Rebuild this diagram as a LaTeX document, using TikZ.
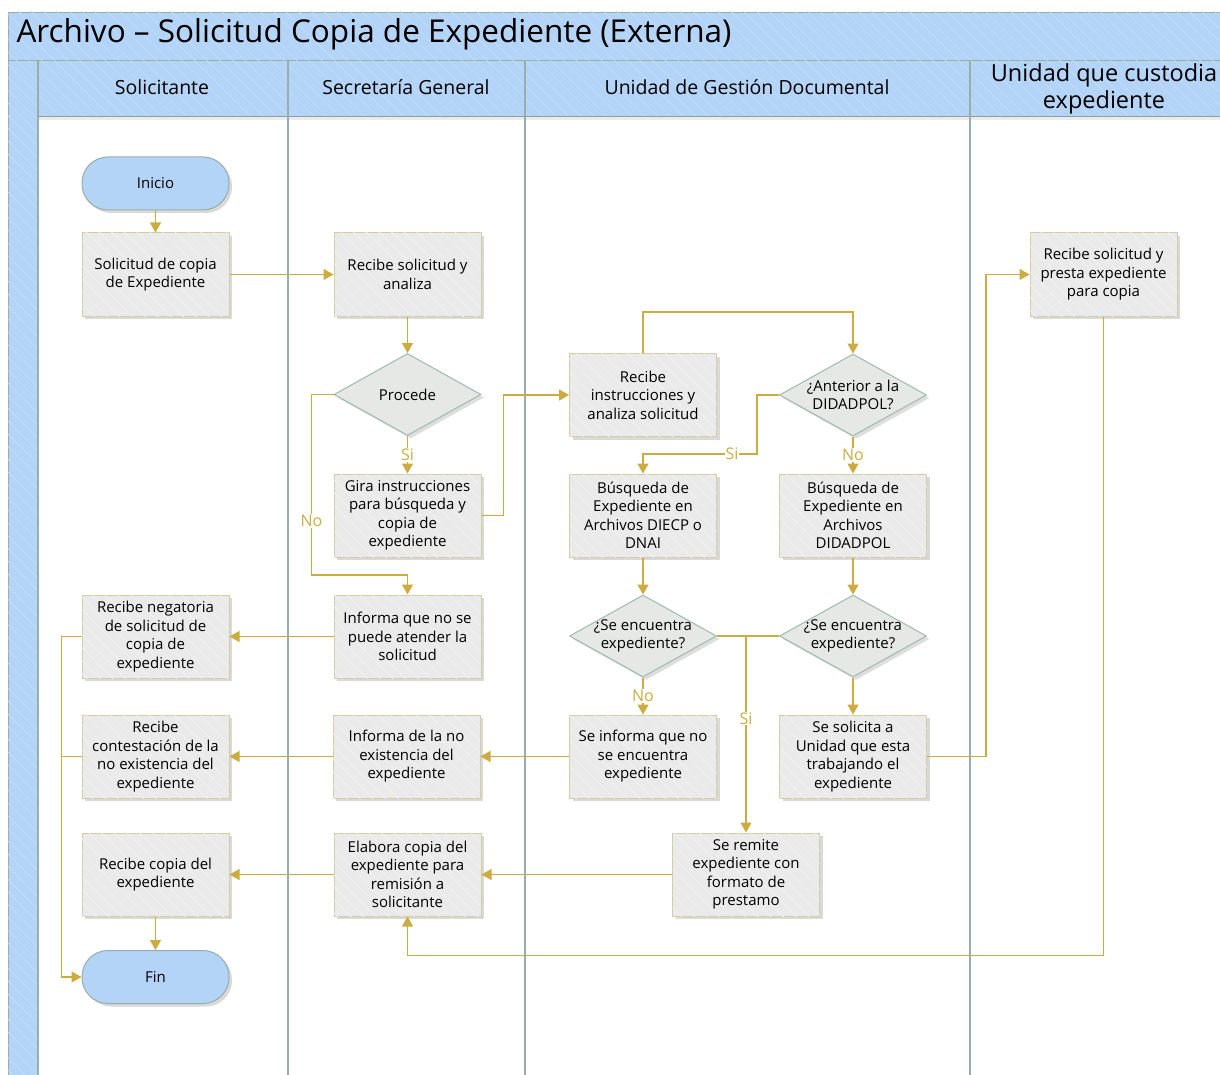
\documentclass[tikz,border=0pt]{standalone}
\usepackage{fontspec}
\setmainfont{Open Sans}
\usetikzlibrary{shapes.geometric,shadows,arrows.meta,patterns.meta}
\definecolor{bluefill}{RGB}{180,212,247}
\definecolor{bluestripe}{RGB}{196,222,250}
\definecolor{laneline}{RGB}{150,175,170}
\definecolor{gold}{RGB}{204,172,64}
\definecolor{boxfill}{RGB}{234,234,234}
\definecolor{boxstripe}{RGB}{243,243,243}
\definecolor{boxborder}{RGB}{214,204,164}
\definecolor{decfill}{RGB}{230,232,230}
\definecolor{decborder}{RGB}{160,185,175}
\begin{document}
\begin{tikzpicture}[x=1pt,y=-1pt,
  bluebg/.style={fill=bluefill,draw=laneline,line width=0.8pt,
     postaction={pattern={Lines[angle=-45,distance=9pt,line width=0.6pt]},pattern color=bluestripe}},
  proc/.style={rectangle,draw=boxborder,fill=boxfill,line width=1pt,
     minimum width=147pt,minimum height=83pt,align=center,inner sep=1pt,
     font=\fontsize{15}{18.5}\selectfont,
     drop shadow={shadow xshift=3pt,shadow yshift=-3pt,opacity=0.15,fill=black},
     postaction={pattern={Lines[angle=-45,distance=9pt,line width=0.6pt]},pattern color=boxstripe}},
  dec/.style={diamond,draw=decborder,fill=decfill,line width=1pt,
     minimum width=147pt,minimum height=82pt,inner sep=0pt,
     drop shadow={shadow xshift=3pt,shadow yshift=-3pt,opacity=0.13,fill=black}},
  dtext/.style={align=center,font=\fontsize{15}{18.5}\selectfont},
  term/.style={rectangle,rounded corners=26pt,draw=laneline,fill=bluefill,line width=1pt,
     minimum width=147pt,minimum height=53pt,font=\fontsize{15}{18}\selectfont,
     drop shadow={shadow xshift=3pt,shadow yshift=-3pt,opacity=0.15,fill=black}},
  conn/.style={draw=gold,line width=1.1pt,-{Triangle[width=11pt,length=10pt]}},
  plain/.style={draw=gold,line width=1.1pt},
  lbl/.style={fill=white,text=gold,inner sep=1pt,font=\fontsize{16}{18}\selectfont},
  hdr/.style={font=\fontsize{19.5}{24}\selectfont,align=center}
]
\useasboundingbox (0,0) rectangle (1220,1075);
\fill[white] (0,0) rectangle (1220,1075);
% frame
\path[bluebg] (8,12) rectangle (1226,60);
\path[bluebg] (8,60) rectangle (38,1080);
\path[bluebg] (38,60) rectangle (1226,116);
\fill[black,opacity=0.08] (38,116) rectangle (1226,120);
\foreach \xx in {38,288,525,970} \draw[laneline,line width=1.2pt] (\xx,60) -- (\xx,1080);
\node[anchor=west,font=\fontsize{31.5}{36}\selectfont] (title) at (13,34.5) {Archivo – Solicitud Copia de Expediente (Externa)};
\node[hdr] (h1) at (162,87) {Solicitante};
\node[hdr] (h2) at (406,87) {Secretaría General};
\node[hdr] (h3) at (747,87) {Unidad de Gestión Documental};
\node[hdr,font=\fontsize{23.5}{27}\selectfont] (h4) at (1104,89) {Unidad que custodia\\expediente};
% nodes
\node[term] (inicio) at (155.5,183.5) {Inicio};
\node[proc] (sol) at (155.5,274.5) {Solicitud de copia\\de Expediente};
\node[proc] (rec) at (407.5,274.5) {Recibe solicitud y\\analiza};
\node[dec,label={[dtext]center:Procede}] (proc) at (407.5,394.5) {};
\node[proc] (gira) at (407.5,515.5) {Gira instrucciones\\para búsqueda y\\copia de\\expediente};
\node[proc] (inf1) at (407.5,636.5) {Informa que no se\\puede atender la\\solicitud};
\node[proc] (infno) at (406.5,756.5) {Informa de la no\\existencia del\\expediente};
\node[proc] (elabora) at (407.5,874.5) {Elabora copia del\\expediente para\\remisión a\\solicitante};
\node[proc] (recinst) at (643,395) {Recibe\\instrucciones y\\analiza solicitud};
\node[dec,label={[dtext]center:{¿Anterior a la\\DIDADPOL?}}] (ant) at (853,395) {};
\node[proc] (busq1) at (643,515.5) {Búsqueda de\\Expediente en\\Archivos DIECP o\\DNAI};
\node[proc] (busq2) at (853,515.5) {Búsqueda de\\Expediente en\\Archivos\\DIDADPOL};
\node[dec,label={[dtext]center:{¿Se encuentra\\expediente?}}] (enc1) at (643,636) {};
\node[dec,label={[dtext]center:{¿Se encuentra\\expediente?}}] (enc2) at (853,636) {};
\node[proc] (seinf) at (643,756.5) {Se informa que no\\se encuentra\\expediente};
\node[proc] (sesol) at (853,756.5) {Se solicita a\\Unidad que esta\\trabajando el\\expediente};
\node[proc] (remite) at (746,874.5) {Se remite\\expediente con\\formato de\\prestamo};
\node[proc] (presta) at (1103.5,274.5) {Recibe solicitud y\\presta expediente\\para copia};
\node[proc] (recneg) at (155.5,636.5) {Recibe negatoria\\de solicitud de\\copia de\\expediente};
\node[proc] (reccont) at (155.5,756.5) {Recibe\\contestación de la\\no existencia del\\expediente};
\node[proc] (reccopia) at (155.5,874.5) {Recibe copia del\\expediente};
\node[term] (fin) at (155.5,977) {Fin};
% connectors
\draw[conn] (inicio) -- (sol);
\draw[conn] (sol) -- (rec);
\draw[conn] (rec) -- (proc);
\draw[conn] (proc) -- node[lbl]{Si} (gira);
\coordinate (noturn) at (407.5,575);
\draw[conn] (proc.west) -- ++(-22,0) |- node[lbl,pos=0.35]{No} (noturn) -- (inf1);
\draw[conn] (gira.east) -- ++(22,0) |- (recinst.west);
\draw[conn] (recinst.north) -- ++(0,-41) -| (ant.north);
\draw[conn] (ant.west) -- ++(-22,0) -- ++(0,59) -| node[lbl,pos=0.11]{Si} (busq1.north);
\draw[conn] (ant) -- node[lbl]{No} (busq2);
\draw[conn] (busq1) -- (enc1);
\draw[conn] (busq2) -- (enc2);
\draw[conn] (enc1.east) -| node[lbl,pos=0.71]{Si} (remite.north);
\draw[plain] (enc2.west) -- (enc2.west -| remite.north);
\draw[conn] (enc1) -- node[lbl]{No} (seinf);
\draw[conn] (enc2) -- (sesol);
\draw[conn] (sesol.east) -- ++(59,0) |- (presta.west);
\draw[conn] (presta.south) -- ++(0,639) -| (elabora.south);
\draw[conn] (remite) -- (elabora);
\draw[conn] (elabora) -- (reccopia);
\draw[conn] (seinf) -- (infno);
\draw[conn] (infno) -- (reccont);
\draw[conn] (inf1) -- (recneg);
\draw[conn] (recneg.west) -- ++(-20,0) |- (fin.west);
\draw[plain] (reccont.west) -- ++(-20,0);
\draw[conn] (reccopia) -- (fin);
\end{tikzpicture}
\end{document}
